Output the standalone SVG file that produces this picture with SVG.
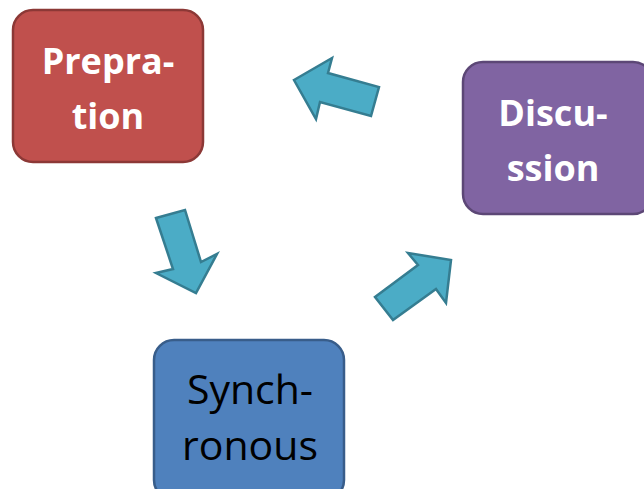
<svg xmlns="http://www.w3.org/2000/svg" width="644" height="489" viewBox="0 0 644 489">
<style>
.box{stroke-width:2.5}
.lbl{font-family:"Open Sans","Liberation Sans",sans-serif;font-size:36px;text-anchor:middle}
.b{font-weight:bold;fill:#fff}
.r{fill:#000;font-size:41px}
.arr{fill:#4BACC6;stroke:#357D91;stroke-width:2.5;stroke-linejoin:miter}
</style>
<rect width="644" height="489" fill="#fff"/>
<g id="connectors">
<polygon class="arr" points="294,80 332,58 328,73 379,87 371,116 320,102 316,119"/>
<polygon class="arr" points="156,218 185,210 201,262 217,254 196,293 156,273 173,269"/>
<polygon class="arr" points="375,297 393,320 436,289 446,303 451,260 408,253 418,265"/>
</g>
<g id="preparation">
<rect class="box" x="13" y="10" width="190" height="152" rx="20" fill="#C0504D" stroke="#8C3836"/>
<text class="lbl b" x="108" y="74">Prepra-</text>
<text class="lbl b" x="108" y="129">tion</text>
</g>
<g id="discussion">
<rect class="box" x="463" y="62" width="190" height="152" rx="20" fill="#8064A2" stroke="#5C4776"/>
<text class="lbl b" x="553" y="126">Discu-</text>
<text class="lbl b" x="553" y="181">ssion</text>
</g>
<g id="synchronous">
<rect class="box" x="154" y="340" width="190" height="160" rx="20" fill="#4F81BD" stroke="#385D8A"/>
<text class="lbl r" x="250" y="404">Synch-</text>
<text class="lbl r" x="250" y="460">ronous</text>
</g>
</svg>
